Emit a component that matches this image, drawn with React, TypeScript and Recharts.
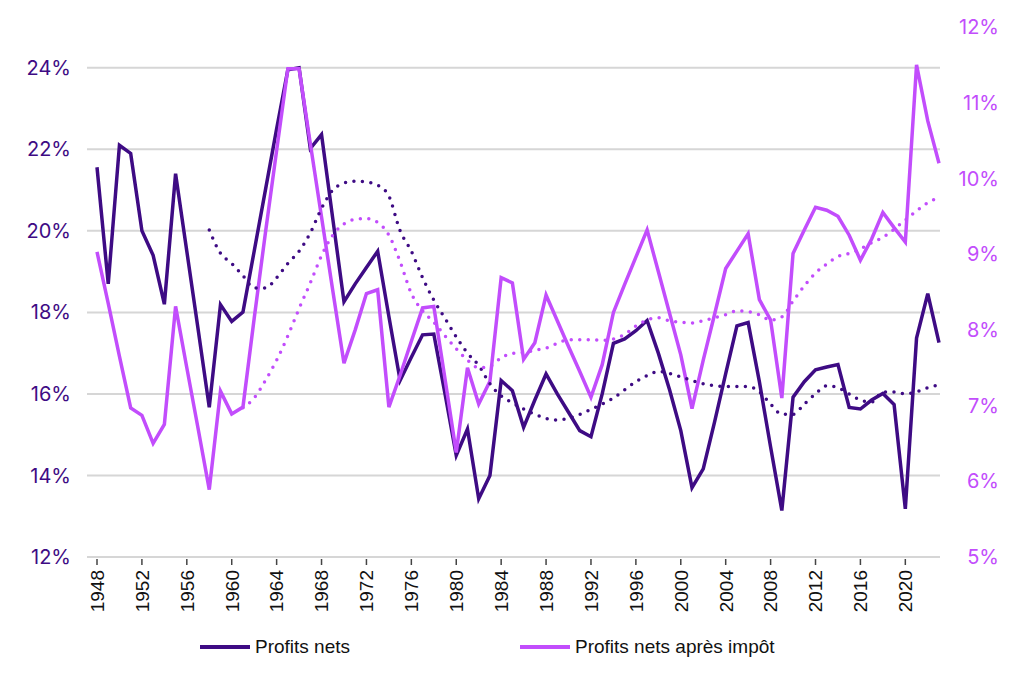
import React from 'react';
import { LineChart, Line, XAxis, YAxis, Legend, ReferenceLine } from 'recharts';

const years = [
  1948, 1949, 1950, 1951, 1952, 1953, 1954, 1955, 1956, 1957,
  1958, 1959, 1960, 1961, 1962, 1963, 1964, 1965, 1966, 1967,
  1968, 1969, 1970, 1971, 1972, 1973, 1974, 1975, 1976, 1977,
  1978, 1979, 1980, 1981, 1982, 1983, 1984, 1985, 1986, 1987,
  1988, 1989, 1990, 1991, 1992, 1993, 1994, 1995, 1996, 1997,
  1998, 1999, 2000, 2001, 2002, 2003, 2004, 2005, 2006, 2007,
  2008, 2009, 2010, 2011, 2012, 2013, 2014, 2015, 2016, 2017,
  2018, 2019, 2020, 2021, 2022, 2023,
];

// Profits nets (% , left axis)
const profitsNets = [
  21.56, 18.7, 22.1, 21.9, 20.0, 19.4, 18.2, 21.4, 19.5, 17.6,
  15.67, 18.19, 17.78, 18.01, 19.5, 21.0, 22.5, 23.95, 24.0, 22.02,
  22.36, 20.3, 18.26, 18.7, 19.1, 19.5, 17.9, 16.33, 16.9, 17.45,
  17.47, 16.0, 14.49, 15.14, 13.43, 14.0, 16.33, 16.08, 15.18, 15.85,
  16.49, 16.0, 15.55, 15.1, 14.95, 16.0, 17.24, 17.35, 17.55, 17.8,
  17.0, 16.1, 15.1, 13.7, 14.16, 15.3, 16.5, 17.67, 17.75, 16.3,
  14.7, 13.14, 15.92, 16.3, 16.59, 16.66, 16.72, 15.67, 15.63, 15.85,
  16.01, 15.74, 13.18, 17.37, 18.46, 17.26,
];

// Profits nets après impôt (%, right axis)
const profitsApresImpot = [
  9.03, 8.35, 7.65, 6.97, 6.87, 6.5, 6.75, 8.31, 7.5, 6.7,
  5.89, 7.19, 6.89, 6.98, 8.15, 9.28, 10.37, 11.45, 11.45, 10.46,
  9.49, 8.52, 7.56, 8.0, 8.48, 8.53, 6.98, 7.4, 7.85, 8.29,
  8.31, 7.35, 6.38, 7.5, 7.02, 7.32, 8.69, 8.62, 7.61, 7.83,
  8.46, 8.12, 7.78, 7.45, 7.11, 7.54, 8.23, 8.6, 8.96, 9.32,
  8.77, 8.22, 7.67, 6.96, 7.6, 8.2, 8.81, 9.04, 9.27, 8.4,
  8.13, 7.1, 9.01, 9.32, 9.62, 9.58, 9.5, 9.25, 8.92, 9.2,
  9.55, 9.35, 9.16, 11.5, 10.76, 10.2,
];

// Tendance (pointillés) des profits nets
const tendanceNets = [
  null, null, null, null, null, null, null, null, null, null,
  20.02, 19.45, 19.2, 18.9, 18.6, 18.6, 18.85, 19.2, 19.5, 19.95,
  20.55, 21.0, 21.17, 21.22, 21.2, 21.12, 20.85, 20.0, 19.5, 18.85,
  18.3, 17.85, 17.4, 17.0, 16.7, 16.25, 15.95, 15.78, 15.63, 15.5,
  15.4, 15.36, 15.4, 15.5, 15.62, 15.75, 15.9, 16.1, 16.3, 16.45,
  16.55, 16.5, 16.42, 16.33, 16.25, 16.2, 16.18, 16.18, 16.18, 16.05,
  15.75, 15.5, 15.5, 15.75, 16.0, 16.2, 16.15, 16.0, 15.85, 15.8,
  16.05, 16.05, 16.0, 16.05, 16.15, 16.22,
];

// Tendance (pointillés) des profits nets après impôt
const tendanceApresImpot = [
  null, null, null, null, null, null, null, null, null, null,
  null, null, null, 6.97, 7.1, 7.33, 7.6, 7.92, 8.28, 8.62,
  8.98, 9.25, 9.4, 9.46, 9.47, 9.42, 9.25, 8.9, 8.48, 8.25,
  8.1, 7.92, 7.75, 7.6, 7.5, 7.52, 7.63, 7.69, 7.7, 7.73,
  7.76, 7.82, 7.87, 7.87, 7.87, 7.86, 7.88, 7.94, 8.05, 8.13,
  8.16, 8.12, 8.1, 8.09, 8.12, 8.16, 8.2, 8.25, 8.24, 8.2,
  8.13, 8.17, 8.38, 8.58, 8.75, 8.87, 8.97, 9.01, 9.07, 9.15,
  9.22, 9.33, 9.45, 9.57, 9.68, 9.75,
];

const leftTicks = [12, 14, 16, 18, 20, 22, 24];
const rightTicks = [5, 6, 7, 8, 9, 10, 11, 12];

const DARK = '#3E0B84';
const LIGHT = '#C24DFC';
const GRID = '#d6d6d6';

const data = years.map((year, i) => ({
  year,
  nets: profitsNets[i],
  apres: profitsApresImpot[i],
  tendNets: tendanceNets[i],
  tendApres: tendanceApresImpot[i],
}));

const XTick = (props: any) => {
  const { x, y, payload } = props;
  return (
    <g>
      <line x1={x} x2={x} y1={y + 2} y2={y + 8} stroke="#444" strokeWidth={1.5} />
      <text
        transform={`translate(${x},${y + 13}) rotate(-90)`}
        textAnchor="end"
        dy="0.36em"
        fontSize={19}
        fontFamily="'Liberation Sans', Arial, sans-serif"
        fill="#111"
      >
        {payload.value}
      </text>
    </g>
  );
};

const RightTick = (props: any) => {
  const { x, y, payload } = props;
  return (
    <text
      x={x + 59}
      y={y}
      dy="0.36em"
      textAnchor="end"
      fontSize={20}
      fontFamily="Inter, 'Noto Sans', sans-serif"
      fill={LIGHT}
    >
      {`${payload.value}%`}
    </text>
  );
};

const legendItems = [
  { label: 'Profits nets', color: DARK, left: 200 },
  { label: 'Profits nets après impôt', color: LIGHT, left: 520 },
];

const renderLegend = () => (
  <div style={{ position: 'relative', width: 1024, height: 30 }}>
    {legendItems.map((it) => (
      <div key={it.label}>
        <div
          style={{
            position: 'absolute',
            left: it.left,
            top: 13,
            width: 50,
            height: 4,
            background: it.color,
          }}
        />
        <div
          style={{
            position: 'absolute',
            left: it.left + 55,
            top: 0,
            height: 30,
            lineHeight: '30px',
            fontSize: 19,
            fontFamily: "'Liberation Sans', Arial, sans-serif",
            color: '#111',
            whiteSpace: 'nowrap',
          }}
        >
          {it.label}
        </div>
      </div>
    ))}
  </div>
);

export default function App() {
  return (
    <div style={{ position: 'absolute', left: 0, top: 0, width: 1024, height: 673, background: '#fff' }}>
      <LineChart
        width={1024}
        height={673}
        data={data}
        margin={{ top: 27, right: 0, bottom: 0, left: 0 }}
      >
        {leftTicks.slice(1).map((t) => (
          <ReferenceLine key={t} yAxisId="left" y={t} stroke={GRID} strokeWidth={2} />
        ))}
        <XAxis
          dataKey="year"
          interval={3}
          height={86}
          padding={{ left: 10, right: 1 }}
          tickLine={false}
          tickSize={0}
          tickMargin={0}
          axisLine={{ stroke: GRID, strokeWidth: 2 }}
          tick={<XTick />}
        />
        <YAxis
          yAxisId="left"
          orientation="left"
          width={87}
          domain={[12, 25]}
          ticks={leftTicks}
          allowDataOverflow
          axisLine={false}
          tickLine={false}
          tickSize={0}
          tickMargin={16}
          tickFormatter={(v: number) => `${v}%`}
          tick={{ fill: DARK, fontSize: 20, fontFamily: "Inter, 'Noto Sans', sans-serif" }}
        />
        <YAxis
          yAxisId="right"
          orientation="right"
          width={84}
          domain={[5, 12]}
          ticks={rightTicks}
          allowDataOverflow
          axisLine={false}
          tickLine={false}
          tickSize={0}
          tickMargin={0}
          tick={<RightTick />}
        />
        <Legend
          verticalAlign="bottom"
          content={renderLegend}
          wrapperStyle={{ bottom: 11, left: 0, width: 1024, height: 30 }}
        />
        <Line
          yAxisId="left"
          dataKey="nets"
          name="Profits nets"
          stroke={DARK}
          strokeWidth={3.5}
          dot={false}
          activeDot={false}
          type="linear"
          isAnimationActive={false}
        />
        <Line
          yAxisId="right"
          dataKey="apres"
          name="Profits nets après impôt"
          stroke={LIGHT}
          strokeWidth={3.5}
          dot={false}
          activeDot={false}
          type="linear"
          isAnimationActive={false}
        />
        <Line
          yAxisId="left"
          dataKey="tendNets"
          stroke={DARK}
          strokeWidth={3.5}
          strokeDasharray="0 8.5"
          strokeLinecap="round"
          dot={false}
          activeDot={false}
          type="monotone"
          legendType="none"
          isAnimationActive={false}
        />
        <Line
          yAxisId="right"
          dataKey="tendApres"
          stroke={LIGHT}
          strokeWidth={3.5}
          strokeDasharray="0 8.5"
          strokeLinecap="round"
          dot={false}
          activeDot={false}
          type="monotone"
          legendType="none"
          isAnimationActive={false}
        />
      </LineChart>
    </div>
  );
}
